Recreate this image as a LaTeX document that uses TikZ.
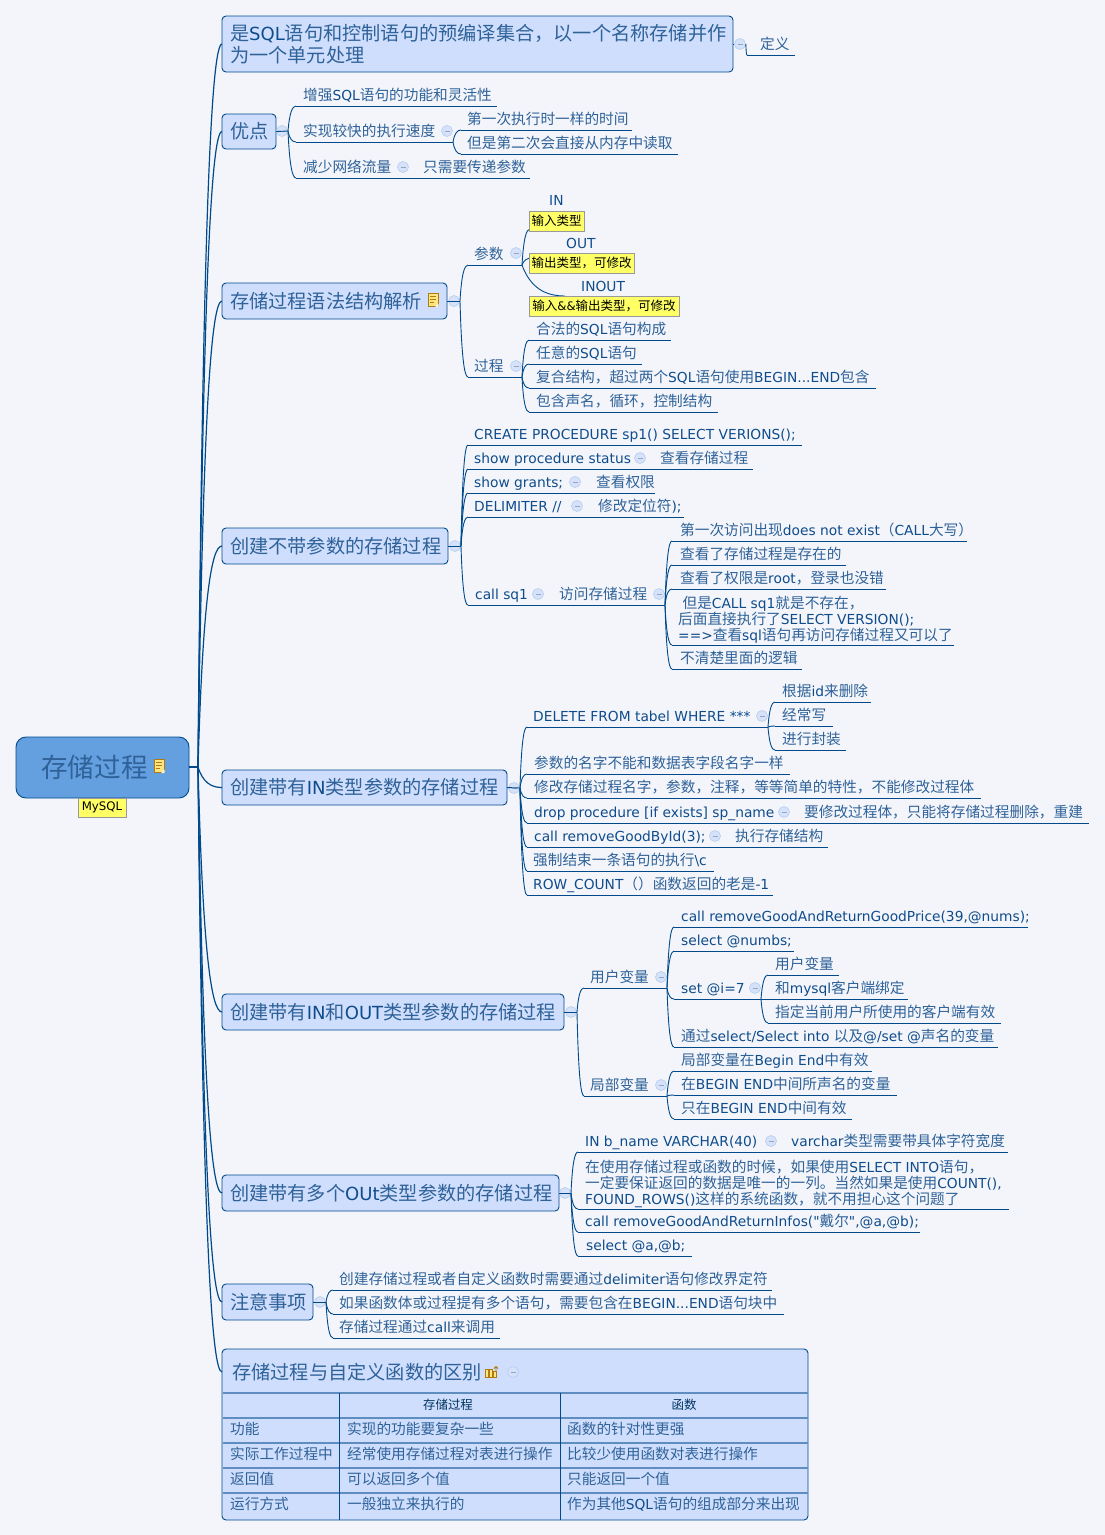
\documentclass[tikz,border=0pt]{standalone}
\usepackage{fontspec}
\usetikzlibrary{calc}
\setmainfont[Scale=0.94]{DejaVu Sans}
\newfontfamily\cjkf{Noto Sans CJK SC}
\newfontfamily\latf[Scale=0.94]{DejaVu Sans}
\newXeTeXintercharclass\cjkclass
\newcount\cjkcnt
\newcommand\setcjkrange[2]{\cjkcnt=#1 \loop\XeTeXcharclass\cjkcnt=\cjkclass\ifnum\cjkcnt<#2 \advance\cjkcnt by 1 \repeat}
\setcjkrange{"4E00}{"9FFF}
\setcjkrange{"3000}{"303F}
\setcjkrange{"FF00}{"FFEF}
\newcommand\cjkcol{}
\newcommand\latcol{}
\XeTeXinterchartokenstate=1
\XeTeXinterchartoks 0 \cjkclass={\cjkf\cjkcol}
\XeTeXinterchartoks 4095 \cjkclass={\cjkf\cjkcol}
\XeTeXinterchartoks \cjkclass 0={\latf\latcol}
\XeTeXinterchartoks 4095 0={\latf\latcol}
\definecolor{bg}{HTML}{F3F5FA}
\definecolor{linec}{HTML}{004A8C}
\definecolor{topicfill}{HTML}{CFDEFC}
\definecolor{rootfill}{HTML}{649FDF}
\definecolor{txtc}{HTML}{0F4C8C}
\definecolor{cjkc}{HTML}{2F6299}
\definecolor{minusf}{HTML}{D5E2F9}
\definecolor{minusd}{HTML}{B9CFF0}
\definecolor{rowc}{HTML}{5F8DC0}
\definecolor{notef}{HTML}{FFFF66}
\definecolor{iconf}{HTML}{FFE680}
\definecolor{icond}{HTML}{B07A10}
\newcommand\bluetxt{\def\cjkcol{\color{cjkc}}\def\latcol{\color{txtc}}}
\tikzset{
  link/.style={draw=linec,line width=0.9pt},
  trunk/.style={draw=linec,line width=1.2pt},
  under/.style={draw=linec,line width=0.9pt},
  txt/.style={inner sep=0pt,anchor=base west,text=txtc,font=\fontsize{14.67}{16}\selectfont\bluetxt},
  mtxt/.style={inner sep=0pt,anchor=south west,text=txtc,align=left,font=\fontsize{14.67}{16}\selectfont\bluetxt},
  topicbox/.style={draw=linec,fill=topicfill,line width=0.9pt,rounded corners=4pt,anchor=north west,outer sep=0pt,inner xsep=8pt,inner ysep=0pt,align=left,text=txtc,font=\fontsize{19.2}{22}\selectfont\bluetxt},
  rootbox/.style={draw=linec,fill=rootfill,line width=0.9pt,rounded corners=10pt,anchor=north west,outer sep=0pt,inner sep=0pt},
  notebox/.style={draw=black!40,fill=notef,line width=0.8pt,anchor=north west,outer sep=0pt,inner sep=0pt,text=black,font=\fontsize{12.5}{14}\selectfont},
  minusc/.style={circle,draw=minusd,fill=minusf,line width=0.7pt,minimum size=11pt,inner sep=0pt,
    path picture={\draw[draw=minusd!80!black,line width=0.8pt] ([xshift=-2.5pt]path picture bounding box.center) -- ([xshift=2.5pt]path picture bounding box.center);}},
  rowline/.style={draw=rowc,line width=2pt},
  colline/.style={draw=linec,line width=0.9pt},
  ctxt/.style={inner sep=0pt,anchor=base west,text=txtc,font=\fontsize{14.67}{16}\selectfont\bluetxt},
  htxt/.style={inner sep=0pt,anchor=base,text=linec!70!black,font=\fontsize{12.44}{14}\selectfont},
}
% curved connector from a fork to a branch end
\newcommand\conn[3][link]{\draw[#1] let \p1=(#2),\p2=(#3) in (\x1,\y1) .. controls ({\x1+0.2*(\x2-\x1)},{\y1+0.75*(\y2-\y1)}) and ({\x1+0.55*(\x2-\x1)},\y2) .. (\x2,\y2);}
% branch: name, x1, x2, underline y, text x, text
\newcommand\leaf[6]{\coordinate (#1) at (#2,#4);\coordinate (#1-e) at (#3,#4);\draw[under] (#1) -- (#1-e);\node[txt] (#1-t) at (#5,#4-5.5) {#6};}
% extra text on a branch
\newcommand\more[4]{\node[txt] (#1) at (#2,#3-5.5) {#4};}
\newcommand\mn[3]{\node[minusc] (#1) at (#2,#3) {};}
\newcommand\topic[6]{\pgfmathsetmacro\tw{#4-#2-16}\pgfmathsetmacro\bw{#4-#2}\pgfmathsetmacro\bh{#5-#3}\node[topicbox,minimum width=\bw pt,minimum height=\bh pt,text width=\tw pt] (#1) at (#2,#3) {#6};}
\newcommand\note[6]{\pgfmathsetmacro\bw{#4-#2}\pgfmathsetmacro\bh{#5-#3}\node[notebox,minimum width=\bw pt,minimum height=\bh pt] (#1) at (#2,#3) {#6};}
\newcommand\noteicon[3]{\node[draw=icond,fill=iconf,line width=1pt,minimum width=10pt,minimum height=13pt,inner sep=0pt] (#1) at (#2,#3) {};
  \draw[icond,line width=0.8pt] (#2-3,#3-3.5) -- (#2+3,#3-3.5) (#2-3,#3-0.5) -- (#2+3,#3-0.5) (#2-3,#3+2.5) -- (#2+1,#3+2.5);
  \fill[bg] (#2+5.5,#3+7) -- (#2+5.5,#3+3.5) -- (#2+2,#3+7) -- cycle;}
\begin{document}
\begin{tikzpicture}[x=1pt,y=-1pt]
\useasboundingbox[fill=bg] (0,0) rectangle (1105,1535);
% root
\node[rootbox,minimum width=173pt,minimum height=61pt] (root) at (16,737) {};
\node[inner sep=0pt,anchor=west,text=txtc,font=\fontsize{26.67}{30}\selectfont\bluetxt] (roott) at (41,767) {存储过程};
\noteicon{rooticon}{159}{766}
\note{rootnote}{78}{798}{126}{817}{MySQL}
\coordinate (fork) at (198,767);
\draw[trunk] (root.east |- fork) -- (fork);
% topics
\topic{t0}{222}{16}{733}{72}{是SQL语句和控制语句的预编译集合，以一个名称存储并作\\为一个单元处理}
\topic{t1}{222}{114}{276}{149}{优点}
\topic{t2}{222}{283}{447}{319}{存储过程语法结构解析}
\topic{t3}{222}{528}{448}{564}{创建不带参数的存储过程}
\topic{t4}{222}{770}{507}{805}{创建带有IN类型参数的存储过程}
\topic{t5}{222}{994}{564}{1030}{创建带有IN和OUT类型参数的存储过程}
\topic{t6}{222}{1175}{559}{1211}{创建带有多个OUt类型参数的存储过程}
\topic{t7}{222}{1284}{313}{1320}{注意事项}
\topic{t8}{222}{1349}{808}{1520}{}
\noteicon{t2icon}{433}{300}
\foreach \t in {t0,t1,t2,t3,t4,t5,t6,t7}{\conn[trunk]{fork}{\t.west}}
\coordinate (t8w) at (222,1372);
\conn[trunk]{fork}{t8w}
% t0
\mn{m0}{740}{44}
\leaf{a0}{747}{795}{55}{760}{定义}
\draw[link] (t0.east) -- (m0.west);
\conn{m0.east}{a0}
% t1
\mn{m1}{282}{131}
\coordinate (f1) at (288,131);
\draw[link] (t1.east) -- (f1);
\leaf{b1}{296}{497}{106}{303}{增强SQL语句的功能和灵活性}
\leaf{b2}{296}{453}{142}{303}{实现较快的执行速度}
\leaf{b3}{296}{530}{178}{303}{减少网络流量}
\mn{m1b}{447}{131}\mn{m1c}{403}{167}
\more{b3b}{423}{178}{只需要传递参数}
\conn{f1}{b1}\conn{f1}{b2}\conn{f1}{b3}
\leaf{b21}{461}{632}{130}{467}{第一次执行时一样的时间}
\leaf{b22}{461}{678}{154}{467}{但是第二次会直接从内存中读取}
\conn{b2-e}{b21}\conn{b2-e}{b22}
% t2
\mn{m2}{454}{301}
\coordinate (f2) at (460,301);
\draw[link] (t2.east) -- (f2);
\leaf{c1}{468}{522}{265}{474}{参数}
\leaf{c2}{468}{522}{377}{474}{过程}
\mn{m2a}{516}{253}\mn{m2b}{516}{366}
\conn{f2}{c1}\conn{f2}{c2}
\node[txt] (c11) at (549,205) {IN};
\node[txt] (c12) at (566,248) {OUT};
\node[txt] (c13) at (581,291) {INOUT};
\coordinate (c11e) at (530,229);\coordinate (c12e) at (532,258);\coordinate (c13e) at (565,296);
\conn{c1-e}{c11e}\conn{c1-e}{c12e}\conn{c1-e}{c13e}
\note{n1}{529}{211}{584}{231}{输入类型}
\note{n2}{529}{253}{634}{273}{输出类型，可修改}
\note{n3}{529}{296}{679}{316}{输入\&\&输出类型，可修改}
\leaf{c21}{529}{671}{340}{536}{合法的SQL语句构成}
\leaf{c22}{529}{642}{364}{536}{任意的SQL语句}
\leaf{c23}{529}{876}{388}{536}{复合结构，超过两个SQL语句使用BEGIN...END包含}
\leaf{c24}{529}{718}{412}{536}{包含声名，循环，控制结构}
\conn{c2-e}{c21}\conn{c2-e}{c22}\conn{c2-e}{c23}\conn{c2-e}{c24}
% t3
\mn{m3}{455}{546}
\coordinate (f3) at (461,546);
\draw[link] (t3.east) -- (f3);
\leaf{d1}{468}{802}{445}{474}{CREATE PROCEDURE sp1() SELECT VERIONS();}
\leaf{d2}{468}{753}{469}{474}{show procedure status}
\mn{m3b}{640}{458}\more{d2b}{660}{469}{查看存储过程}
\leaf{d3}{468}{655}{493}{474}{show grants;}
\mn{m3c}{575}{482}\more{d3b}{596}{493}{查看权限}
\leaf{d4}{468}{684}{517}{474}{DELIMITER //}
\mn{m3d}{577}{506}\more{d4b}{598}{517}{修改定位符);}
\leaf{d5}{468}{665}{605}{475}{call sq1}
\mn{m3e}{538}{594}\more{d5b}{559}{605}{访问存储过程}\mn{m3f}{659}{594}
\conn{f3}{d1}\conn{f3}{d2}\conn{f3}{d3}\conn{f3}{d4}\conn{f3}{d5}
\leaf{d51}{672}{967}{541}{680}{第一次访问出现does not exist（CALL大写）}
\leaf{d52}{672}{846}{565}{680}{查看了存储过程是存在的}
\leaf{d53}{672}{886}{589}{680}{查看了权限是root，登录也没错}
\coordinate (d54) at (672,645);\coordinate (d54-e) at (954,645);
\draw[under] (d54) -- (d54-e);
\node[mtxt] (d54-t) at (678,643.5) {\ 但是CALL sq1就是不存在，\\后面直接执行了SELECT VERSION();\\==>查看sql语句再访问存储过程又可以了};
\leaf{d55}{672}{802}{669}{680}{不清楚里面的逻辑}
\conn{d5-e}{d51}\conn{d5-e}{d52}\conn{d5-e}{d53}\conn{d5-e}{d54}\conn{d5-e}{d55}
% t4
\mn{m4}{514}{788}
\coordinate (f4) at (520,788);
\draw[link] (t4.east) -- (f4);
\leaf{e1}{527}{768}{727}{533}{DELETE FROM tabel WHERE ***}
\mn{m4a}{762}{716}
\leaf{e11}{775}{871}{702}{782}{根据id来删除}
\leaf{e12}{775}{833}{726}{782}{经常写}
\leaf{e13}{775}{846}{750}{782}{进行封装}
\conn{e1-e}{e11}\conn{e1-e}{e12}\conn{e1-e}{e13}
\leaf{e2}{527}{790}{774}{534}{参数的名字不能和数据表字段名字一样}
\leaf{e3}{527}{981}{798}{534}{修改存储过程名字，参数，注释，等等简单的特性，不能修改过程体}
\leaf{e4}{527}{1089}{823}{534}{drop procedure [if exists] sp\_name}
\mn{m4d}{784}{812}\more{e4b}{804}{823}{要修改过程体，只能将存储过程删除，重建}
\leaf{e5}{527}{828}{847}{534}{call removeGoodById(3);}
\mn{m4e}{715}{836}\more{e5b}{735}{847}{执行存储结构}
\leaf{e6}{527}{714}{871}{533}{强制结束一条语句的执行\textbackslash c}
\leaf{e7}{527}{773}{895}{533}{ROW\_COUNT（）函数返回的老是-1}
\conn{f4}{e1}\conn{f4}{e2}\conn{f4}{e3}\conn{f4}{e4}\conn{f4}{e5}\conn{f4}{e6}\conn{f4}{e7}
% t5
\mn{m5}{571}{1012}
\coordinate (f5) at (577,1012);
\draw[link] (t5.east) -- (f5);
\leaf{g1}{584}{667}{988}{590}{用户变量}
\leaf{g2}{584}{667}{1096}{590}{局部变量}
\mn{m5a}{661}{977}\mn{m5b}{661}{1085}
\conn{f5}{g1}\conn{f5}{g2}
\leaf{g11}{674}{1028}{927}{681}{call removeGoodAndReturnGoodPrice(39,@nums);}
\leaf{g12}{674}{794}{951}{681}{select @numbs;}
\leaf{g13}{674}{761}{999}{681}{set @i=7}
\mn{m5c}{755}{988}
\leaf{g14}{674}{998}{1047}{681}{通过select/Select into 以及@/set @声名的变量}
\conn{g1-e}{g11}\conn{g1-e}{g12}\conn{g1-e}{g13}\conn{g1-e}{g14}
\leaf{g131}{768}{839}{975}{775}{用户变量}
\leaf{g132}{768}{908}{999}{775}{和mysql客户端绑定}
\leaf{g133}{768}{1001}{1023}{775}{指定当前用户所使用的客户端有效}
\conn{g13-e}{g131}\conn{g13-e}{g132}\conn{g13-e}{g133}
\leaf{g21}{674}{872}{1071}{681}{局部变量在Begin End中有效}
\leaf{g22}{674}{897}{1095}{681}{在BEGIN END中间所声名的变量}
\leaf{g23}{674}{852}{1119}{681}{只在BEGIN END中间有效}
\conn{g2-e}{g21}\conn{g2-e}{g22}\conn{g2-e}{g23}
% t6
\mn{m6}{565}{1193}
\coordinate (f6) at (571,1193);
\draw[link] (t6.east) -- (f6);
\leaf{h1}{578}{1008}{1152}{585}{IN b\_name VARCHAR(40)}
\mn{m6a}{771}{1141}\more{h1b}{791}{1152}{varchar类型需要带具体字符宽度}
\coordinate (h2) at (578,1209);\coordinate (h2-e) at (1009,1209);
\draw[under] (h2) -- (h2-e);
\node[mtxt] (h2-t) at (585,1207.5) {在使用存储过程或函数的时候，如果使用SELECT INTO语句，\\一定要保证返回的数据是唯一的一列。当然如果是使用COUNT(),\\FOUND\_ROWS()这样的系统函数，就不用担心这个问题了};
\leaf{h3}{578}{920}{1232}{585}{call removeGoodAndReturnInfos("戴尔",@a,@b);}
\leaf{h4}{578}{692}{1256}{586}{select @a,@b;}
\conn{f6}{h1}\conn{f6}{h2}\conn{f6}{h3}\conn{f6}{h4}
% t7
\mn{m7}{320}{1302}
\coordinate (f7) at (326,1302);
\draw[link] (t7.east) -- (f7);
\leaf{j1}{333}{772}{1290}{339}{创建存储过程或者自定义函数时需要通过delimiter语句修改界定符}
\leaf{j2}{333}{784}{1314}{339}{如果函数体或过程提有多个语句，需要包含在BEGIN...END语句块中}
\leaf{j3}{333}{500}{1338}{339}{存储过程通过call来调用}
\conn{f7}{j1}\conn{f7}{j2}\conn{f7}{j3}
% t8 title and table
\node[inner sep=0pt,anchor=west,text=txtc,font=\fontsize{19.2}{22}\selectfont\bluetxt] (t8t) at (232,1372) {存储过程与自定义函数的区别};
\fill[iconf,draw=icond,line width=0.6pt] (485.5,1369) rectangle (488,1377) (489.5,1369) rectangle (492,1377) (493.5,1371) rectangle (496,1377);
\draw[icond,line width=0.9pt] (496,1372) -- (496,1366.5) (494,1368.5) -- (496,1366.5) -- (498,1368.5);
\mn{m8}{513}{1372}
\foreach \yy in {1393,1418,1443,1468,1493}{\draw[rowline] (222.5,\yy) -- (807.5,\yy);}
\foreach \xx in {339.5,560.5}{\draw[colline] (\xx,1393) -- (\xx,1520);}
\node[htxt] (th1) at (448,1409) {存储过程};
\node[htxt] (th2) at (684,1409) {函数};
\node[ctxt] (r11) at (230,1434) {功能};
\node[ctxt] (r12) at (347,1434) {实现的功能要复杂一些};
\node[ctxt] (r13) at (567,1434) {函数的针对性更强};
\node[ctxt] (r21) at (230,1459) {实际工作过程中};
\node[ctxt] (r22) at (347,1459) {经常使用存储过程对表进行操作};
\node[ctxt] (r23) at (567,1459) {比较少使用函数对表进行操作};
\node[ctxt] (r31) at (230,1484) {返回值};
\node[ctxt] (r32) at (347,1484) {可以返回多个值};
\node[ctxt] (r33) at (567,1484) {只能返回一个值};
\node[ctxt] (r41) at (230,1509) {运行方式};
\node[ctxt] (r42) at (347,1509) {一般独立来执行的};
\node[ctxt] (r43) at (567,1509) {作为其他SQL语句的组成部分来出现};
\end{tikzpicture}
\end{document}
